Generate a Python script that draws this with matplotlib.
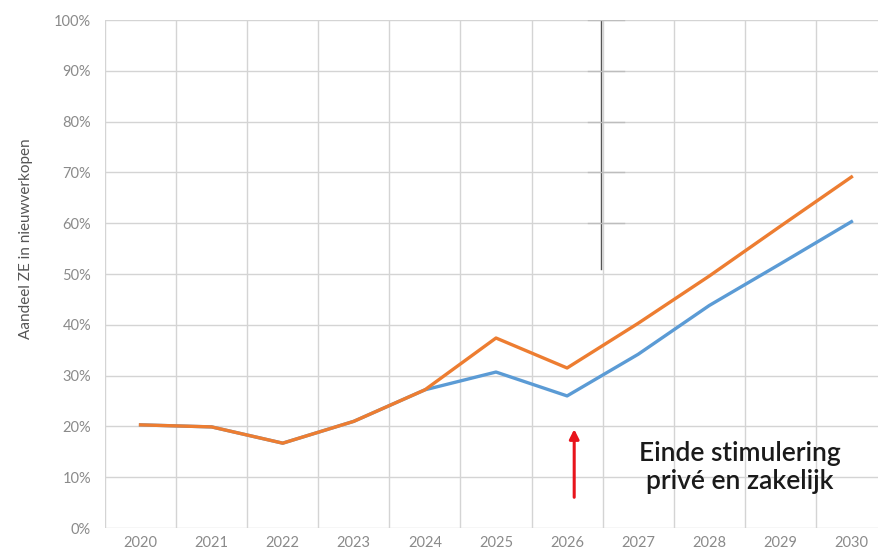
import matplotlib
matplotlib.use("Agg")
import matplotlib.pyplot as plt
from matplotlib.ticker import FixedLocator

years = ["2020", "2021", "2022", "2023", "2024", "2025", "2026", "2027", "2028", "2029", "2030"]
blue_vals = [20.3, 19.9, 16.7, 21.0, 27.2, 30.7, 26.0, 34.2, 43.8, 52.0, 60.3]
orange_vals = [20.3, 19.9, 16.7, 21.0, 27.2, 37.4, 31.5, 40.3, 49.6, 59.4, 69.1]
yticks = [0, 10, 20, 30, 40, 50, 60, 70, 80, 90, 100]
annotation = "Einde stimulering\nprivé en zakelijk"
ylabel = "Aandeel ZE in nieuwverkopen"

plt.rcParams['font.family'] = ['Lato', 'DejaVu Sans']

fig = plt.figure(figsize=(8.79, 5.57), dpi=100)
ax = fig.add_axes([105/879, 1 - 528/557, 782/879, 508/557])

x = list(range(len(years)))
ax.plot(x, blue_vals, color="#5B9BD5", lw=2.4, solid_joinstyle="round", zorder=3)
ax.plot(x, orange_vals, color="#ED7D31", lw=2.4, solid_joinstyle="round", zorder=4)

ax.set_xlim(-0.5, len(years) - 0.5)
ax.set_ylim(0, 100)
ax.set_xticks(x)
ax.set_xticklabels(years)
ax.xaxis.set_minor_locator(FixedLocator([i - 0.5 for i in range(len(years) + 1)]))
ax.set_yticks(yticks)
ax.set_yticklabels([f"{v}%" for v in yticks])

ax.grid(True, which="minor", axis="x", color="#d4d4d4", lw=1.0)
ax.grid(True, which="major", axis="y", color="#d4d4d4", lw=1.0)
ax.tick_params(axis="both", which="both", length=0, labelsize=10.5, colors="#8a8a8a")
ax.tick_params(axis="x", pad=6)
ax.tick_params(axis="y", pad=10)
for s in ax.spines.values():
    s.set_visible(False)

ax.set_ylabel(ylabel, fontsize=11, color="#555555")
ax.yaxis.set_label_coords(-0.092, 0.57)

# dark vertical artifact line near 2026/2027 boundary, with short faint ticks
ax.plot([6.47, 6.47], [51, 100], color="#555555", lw=1.0, zorder=2)
for yv in [60, 70, 80, 90, 100]:
    ax.plot([6.3, 6.8], [yv, yv], color="#bdbdbd", lw=1.0, zorder=2)

# red arrow
ax.annotate("", xy=(6.1, 20.0), xytext=(6.1, 5.5),
            arrowprops=dict(arrowstyle="-|>", color="#e8141c", lw=2.2, mutation_scale=14))

ax.text(8.43, 12.0, annotation, ha="center", va="center", fontsize=19,
        fontweight="semibold", color="#1a1a1a", linespacing=1.15)

fig.savefig("out.png", dpi=100)
